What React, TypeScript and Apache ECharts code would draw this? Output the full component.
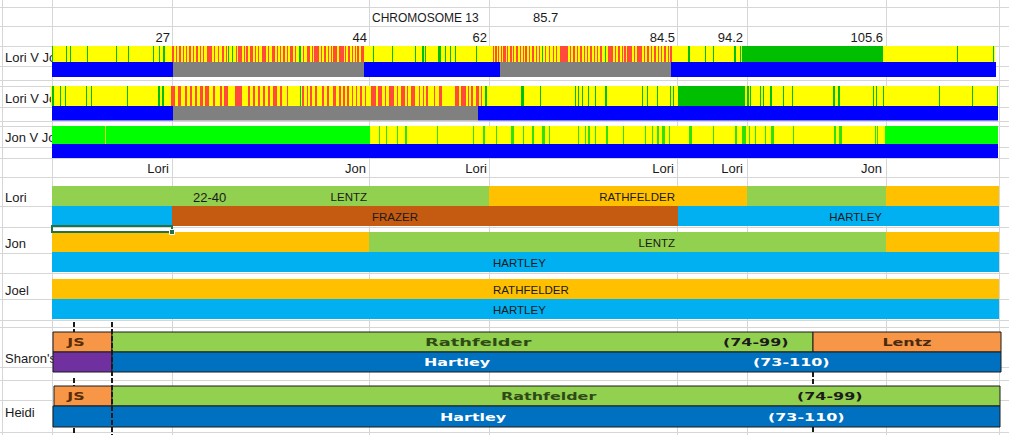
import React, { useEffect, useRef } from "react";
import * as echarts from "echarts";

const W = 1009;
const H = 435;

// ---------- texts ----------
const titleText = "CHROMOSOME 13";
const titleValue = "85.7";
const tickLabels = ["27", "44", "62", "84.5", "94.2", "105.6"];
const tickPositions = [170, 367, 487, 675, 743, 883];
const matchNames = ["Lori", "Jon", "Lori", "Lori", "Lori", "Jon"];
const matchPositions = [169, 366, 487, 674, 743, 882];
const comparisonNames = ["Lori V Jon", "Lori V Joel", "Jon V Joel"];
const personNames = ["Lori", "Jon", "Joel", "Sharon's", "Heidi"];

// ---------- segments: [start, end, colourKey] ----------
const track1Base = [[52, 995, "yellow"], [742, 883, "green"]];
const track1Bar = [[52, 173, "blue"], [173, 364, "gray"], [364, 500, "blue"], [500, 671, "gray"], [671, 996, "blue"]];
const track2Base = [[51, 998, "yellow"], [678, 745, "green"]];
const track2Bar = [[52, 173, "blue"], [173, 478, "gray"], [478, 998, "blue"]];
const track3Base = [[52, 370, "lime"], [370, 885, "yellow"], [885, 998, "lime"]];
const track3Bar = [[52, 998, "blue"]];

// thin stripes: [start, width]
const t1Green = [[52, 1], [66, 1], [70, 1], [87, 1], [116, 1], [128, 1], [153, 1], [159, 1], [163, 2], [228, 1], [232, 1], [299, 2], [373, 1], [392, 1], [415, 1], [422, 2], [425, 1], [438, 3], [445, 1], [450, 1], [455, 1], [476, 1], [542, 1], [605, 1], [688, 2], [705, 1], [713, 1], [734, 2], [740, 1], [957, 1], [993, 1]];
const t1Red = [[172, 2], [176, 1], [179, 2], [183, 1], [186, 1], [189, 2], [193, 1], [196, 2], [200, 1], [203, 1], [207, 5], [214, 1], [218, 1], [222, 2], [226, 1], [236, 1], [238, 4], [244, 1], [246, 2], [250, 3], [255, 1], [258, 1], [262, 4], [268, 1], [272, 3], [277, 1], [280, 1], [283, 2], [287, 1], [290, 3], [295, 1], [303, 1], [307, 3], [312, 1], [314, 5], [321, 1], [324, 2], [328, 1], [331, 1], [333, 4], [339, 5], [345, 1], [348, 2], [352, 1], [355, 1], [357, 2], [361, 3],
  [493, 1], [495, 2], [498, 1], [501, 1], [503, 3], [507, 1], [510, 2], [513, 1], [516, 2], [520, 1], [523, 1], [525, 2], [529, 1], [532, 2], [536, 1], [539, 1], [545, 1], [549, 1], [553, 1], [556, 1], [560, 8], [570, 1], [573, 2], [577, 1], [580, 2], [584, 1], [587, 1], [590, 2], [594, 1], [597, 1], [600, 2], [608, 5], [615, 1], [618, 2], [622, 1], [624, 2], [627, 5], [634, 1], [637, 5], [644, 1], [647, 2], [651, 1], [654, 2], [658, 1], [661, 1], [664, 2], [668, 1], [670, 2]];
const t2Green = [[52, 2], [60, 1], [65, 1], [86, 1], [91, 1], [127, 1], [158, 2], [162, 2], [300, 1], [485, 2], [521, 3], [540, 1], [575, 1], [578, 1], [582, 1], [588, 1], [595, 1], [605, 2], [642, 1], [647, 1], [657, 1], [670, 1], [673, 1], [747, 2], [750, 1], [760, 1], [763, 1], [770, 2], [783, 1], [792, 1], [833, 2], [838, 2], [873, 1], [876, 1], [883, 1], [939, 1], [972, 1], [997, 1]];
const t2Red = [[171, 4], [178, 3], [185, 2], [190, 2], [195, 2], [200, 3], [205, 4], [213, 2], [220, 2], [224, 4], [235, 7], [248, 2], [253, 2], [258, 2], [263, 2], [268, 2], [273, 4], [280, 2], [287, 1], [302, 2], [307, 1], [310, 2], [315, 2], [322, 2], [327, 2], [333, 3], [339, 2], [343, 2], [347, 2], [352, 1], [356, 1], [360, 2], [365, 1], [371, 5], [378, 4], [385, 1], [389, 5], [397, 1], [401, 4], [407, 1], [411, 4], [419, 1], [423, 1], [426, 2], [434, 1], [439, 3], [455, 4], [461, 5], [468, 1], [471, 2], [476, 3], [481, 1]];
const t3Lime = [[379, 1], [386, 1], [397, 1], [405, 2], [437, 1], [473, 1], [483, 2], [496, 1], [511, 3], [523, 1], [532, 2], [542, 3], [549, 1], [578, 1], [585, 1], [588, 2], [595, 1], [606, 2], [623, 1], [645, 1], [652, 1], [657, 2], [662, 3], [669, 1], [689, 3], [713, 1], [735, 2], [742, 4], [749, 1], [755, 1], [765, 1], [771, 3], [793, 1], [834, 2], [839, 3], [875, 1], [877, 1]];
const t3Yellow = [[105, 1]];

// surname segments
const loriTop = [[52, 489, "xlGreen"], [489, 747, "xlOrange"], [747, 886, "xlGreen"], [886, 999, "xlOrange"]];
const loriBottom = [[52, 172, "xlBlue"], [172, 678, "xlBrown"], [678, 999, "xlBlue"]];
const jonTop = [[52, 369, "xlOrange"], [369, 886, "xlGreen"], [886, 999, "xlOrange"]];
const jonBottom = [[52, 999, "xlBlue"]];
const joelTop = [[52, 999, "xlOrange"]];
const joelBottom = [[52, 999, "xlBlue"]];
const sharonTop = [[53, 112, "jsOrange"], [112, 813, "jsGreen"], [813, 1001, "jsOrange"]];
const sharonBottom = [[53, 112, "jsPurple"], [112, 1001, "jsBlue"]];
const heidiTop = [[54, 112, "jsOrange"], [112, 1000, "jsGreen"]];
const heidiBottom = [[53, 1000, "jsBlue"]];

// labels inside bars: [text, x, align]
const loriTopLabels = [["22-40", 193, "left"], ["LENTZ", 367, "right"], ["RATHFELDER", 675, "right"]];
const loriBottomLabels = [["FRAZER", 395, "center"], ["HARTLEY", 882, "right"]];
const jonTopLabels = [["LENTZ", 675, "right"]];
const jonBottomLabels = [["HARTLEY", 493, "left"]];
const joelTopLabels = [["RATHFELDER", 493, "left"]];
const joelBottomLabels = [["HARTLEY", 493, "left"]];
const sharonTopLabels = [["JS", 76, "center"], ["Rathfelder", 425, "left"], ["(74-99)", 723, "left"], ["Lentz", 907, "center"]];
const sharonBottomLabels = [["Hartley", 424, "left"], ["(73-110)", 753, "left"]];
const heidiTopLabels = [["JS", 76, "center"], ["Rathfelder", 501, "left"], ["(74-99)", 797, "left"]];
const heidiBottomLabels = [["Hartley", 440, "left"], ["(73-110)", 768, "left"]];

// ---------- layout / style ----------
const LANE: Record<string, [number, number]> = {
  t1s: [46, 16], t1b: [62, 15], t2s: [86, 20], t2b: [106, 14.5], t3s: [126, 18], t3b: [144, 14],
  lori1: [186, 20], lori2: [206, 20], jon1: [232, 20], jon2: [252, 20], joel1: [279, 20], joel2: [299, 20],
  sharon1: [332, 20], sharon2: [352, 20], heidi1: [386, 20], heidi2: [406, 21],
};
const COLORS: Record<string, string> = {
  yellow: "#FFFF00", red: "#FF4A3D", green: "#00BF00", lime: "#00FF00", limeLine: "#30E000",
  paleYellow: "#D8F400", blue: "#0000FF", gray: "#808080",
  xlGreen: "#92D050", xlOrange: "#FFC000", xlBlue: "#00B0F0", xlBrown: "#C55A11",
  jsOrange: "#F79646", jsGreen: "#92D050", jsBlue: "#0070C0", jsPurple: "#7030A0",
};
const BORDERED = new Set(["sharon1", "sharon2", "heidi1", "heidi2"]);
const V_GRID = [2, 52, 172, 369, 489, 677, 747, 886, 999];
const H_GRID = [7, 26, 46, 66, 80, 86, 107, 121, 126, 147, 158, 177, 206, 227, 253, 273, 299, 320, 327, 367, 380, 400, 432];
const FONT = "'Liberation Sans', Arial, sans-serif";
const BOLD_FONT = "'DejaVu Sans', Verdana, sans-serif";

type R = { x0: number; x1: number; lane: string; fill: string; stroke?: string };
const rects: R[] = [];
function addSegs(lane: string, segs: any[]) {
  segs.forEach((s) => rects.push({ x0: s[0], x1: s[1], lane, fill: COLORS[s[2]], stroke: BORDERED.has(lane) ? "#1a1a1a" : undefined }));
}
function addStripes(lane: string, list: number[][], key: string) {
  list.forEach((s) => rects.push({ x0: s[0], x1: s[0] + s[1], lane, fill: COLORS[key] }));
}
addSegs("t1s", track1Base); addStripes("t1s", t1Green, "green"); addStripes("t1s", t1Red, "red"); addSegs("t1b", track1Bar);
addSegs("t2s", track2Base); addStripes("t2s", t2Green, "green"); addStripes("t2s", t2Red, "red"); addSegs("t2b", track2Bar);
addSegs("t3s", track3Base); addStripes("t3s", t3Lime, "limeLine"); addStripes("t3s", t3Yellow, "paleYellow"); addSegs("t3b", track3Bar);
addSegs("lori1", loriTop); addSegs("lori2", loriBottom);
addSegs("jon1", jonTop); addSegs("jon2", jonBottom);
addSegs("joel1", joelTop); addSegs("joel2", joelBottom);
addSegs("sharon1", sharonTop); addSegs("sharon2", sharonBottom);
addSegs("heidi1", heidiTop); addSegs("heidi2", heidiBottom);

type T = { text: string; x: number; y: number; align: string; size: number; weight?: string; family?: string; color?: string; sx?: number };
const underTexts: T[] = [];
const overTexts: T[] = [];
overTexts.push({ text: titleText, x: 372, y: 17.5, align: "left", size: 12 });
overTexts.push({ text: titleValue, x: 533, y: 17.5, align: "left", size: 13 });
tickLabels.forEach((t, i) => overTexts.push({ text: t, x: tickPositions[i], y: 37.5, align: "right", size: 13 }));
matchNames.forEach((t, i) => overTexts.push({ text: t, x: matchPositions[i], y: 168.5, align: "right", size: 13 }));
[57.5, 98, 137.5].forEach((y, i) => underTexts.push({ text: comparisonNames[i], x: 5, y, align: "left", size: 13 }));
[197.5, 243, 290, 358, 412].forEach((y, i) => underTexts.push({ text: personNames[i], x: 5, y, align: "left", size: 13 }));
function laneMid(l: string) { return LANE[l][0] + LANE[l][1] / 2 + 1; }
function addLabels(lane: string, list: any[]) {
  list.forEach((l) => overTexts.push({ text: l[0], x: l[1], y: laneMid(lane), align: l[2], size: /^[A-Z]+$/.test(l[0]) ? 11.5 : 13 }));
}
addLabels("lori1", loriTopLabels); addLabels("lori2", loriBottomLabels);
addLabels("jon1", jonTopLabels); addLabels("jon2", jonBottomLabels);
addLabels("joel1", joelTopLabels); addLabels("joel2", joelBottomLabels);
const BOLD_COLOR: Record<string, string> = { JS: "#5a2c08", Rathfelder: "#2f4a16", "(74-99)": "#1c1c1c", Lentz: "#4a2a0e", Hartley: "#ffffff", "(73-110)": "#ffffff" };
function addBold(lane: string, list: any[], wideFirst = false) {
  list.forEach((l) => overTexts.push({
    text: l[0], x: l[1], y: LANE[lane][0] + LANE[lane][1] / 2, align: l[2], size: 11, weight: "bold", family: BOLD_FONT,
    color: BOLD_COLOR[l[0]], sx: wideFirst && l[0] === "Rathfelder" ? 1.62 : 1.45,
  }));
}
addBold("sharon1", sharonTopLabels, true); addBold("sharon2", sharonBottomLabels);
addBold("heidi1", heidiTopLabels); addBold("heidi2", heidiBottomLabels);

// line items: [x1, y1, x2, y2]
const gridLines: number[][] = [];
V_GRID.forEach((x) => gridLines.push([x, 0, x, H]));
H_GRID.forEach((y) => gridLines.push([0, y, W, y]));
// dashed markers on the Sharon / Heidi panel
const markerLines = [[74, 322, 74, 332], [74, 378, 74, 386], [74, 428, 74, 435], [112, 322, 112, 435], [813, 372, 813, 386], [813, 427, 813, 432]];

function textSeries(list: T[], z: number) {
  return {
    type: "custom", z, silent: true, clip: false,
    data: list.map((t) => [t.x, t.y]),
    encode: { x: 0, y: 1 },
    renderItem: (params: any, api: any) => {
      const t = list[params.dataIndex];
      const p = api.coord([t.x, t.y]);
      return {
        type: "text", x: p[0], y: p[1], scaleX: t.sx || 1,
        style: {
          text: t.text, fill: t.color || "#1a1a1a", fontSize: t.size, fontFamily: t.family || FONT,
          fontWeight: t.weight || "normal", align: t.align, verticalAlign: "middle",
        },
      };
    },
  };
}
function lineSeries(list: number[][], z: number, stroke: string, width: number, dash?: number[]) {
  return {
    type: "custom", z, silent: true, clip: false,
    data: list,
    encode: { x: [0, 2], y: [1, 3] },
    renderItem: (params: any, api: any) => {
      const a = api.coord([api.value(0), api.value(1)]);
      const b = api.coord([api.value(2), api.value(3)]);
      const v = a[0] === b[0];
      const off = width % 2 === 1 ? 0.5 : 0;
      return {
        type: "line",
        shape: v ? { x1: Math.round(a[0]) + off, y1: a[1], x2: Math.round(b[0]) + off, y2: b[1] }
          : { x1: a[0], y1: Math.round(a[1]) + off, x2: b[0], y2: Math.round(b[1]) + off },
        style: { stroke, lineWidth: width, lineDash: dash },
      };
    },
  };
}

const option: any = {
  animation: false,
  backgroundColor: "#ffffff",
  grid: { left: 0, right: 0, top: 0, bottom: 0 },
  xAxis: { type: "value", min: 0, max: W, show: false },
  yAxis: { type: "value", min: 0, max: H, inverse: true, show: false },
  series: [
    lineSeries(gridLines, 1, "#d6d6d6", 1),
    textSeries(underTexts, 2),
    {
      type: "custom", z: 3, silent: true, clip: false,
      data: rects.map((r) => [r.x0, r.x1, LANE[r.lane][0]]),
      encode: { x: [0, 1], y: 2 },
      renderItem: (params: any, api: any) => {
        const r = rects[params.dataIndex];
        const [top, h] = LANE[r.lane];
        const p0 = api.coord([api.value(0), top]);
        const p1 = api.coord([api.value(1), top + h]);
        return {
          type: "rect",
          shape: { x: p0[0], y: p0[1], width: p1[0] - p0[0], height: p1[1] - p0[1] },
          style: r.stroke ? { fill: r.fill, stroke: r.stroke, lineWidth: 1 } : { fill: r.fill },
        };
      },
    },
    lineSeries(markerLines, 4, "#1a1a1a", 2, [5, 2]),
    {
      type: "custom", z: 4, silent: true, clip: false,
      data: [[52, 226, 172, 232]],
      encode: { x: [0, 2], y: [1, 3] },
      renderItem: (params: any, api: any) => {
        const a = api.coord([api.value(0), api.value(1)]);
        const b = api.coord([api.value(2), api.value(3)]);
        return {
          type: "group",
          children: [
            { type: "rect", shape: { x: a[0], y: a[1], width: b[0] - a[0], height: b[1] - a[1] }, style: { fill: "none", stroke: "#217346", lineWidth: 2 } },
            { type: "rect", shape: { x: b[0] - 2.5, y: b[1] - 2.5, width: 5, height: 5 }, style: { fill: "#217346", stroke: "#ffffff", lineWidth: 1 } },
          ],
        };
      },
    },
    textSeries(overTexts, 5),
  ],
};

export default function App() {
  const ref = useRef<HTMLDivElement>(null);
  useEffect(() => {
    const chart = echarts.init(ref.current as HTMLDivElement, null, { renderer: "svg", width: W, height: H });
    chart.setOption(option);
    return () => chart.dispose();
  }, []);
  return <div ref={ref} style={{ position: "fixed", left: 0, top: 0, width: W, height: H, background: "#fff" }} />;
}
